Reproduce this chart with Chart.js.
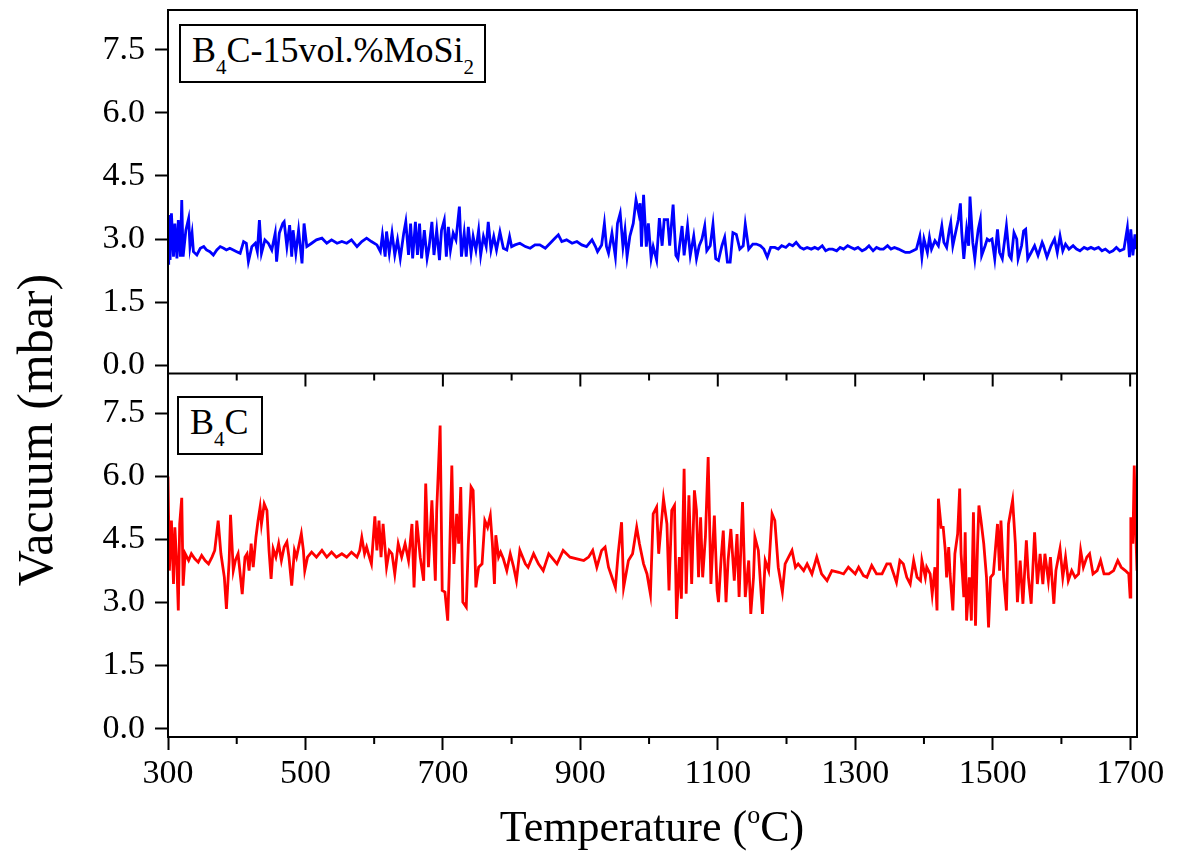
<!DOCTYPE html>
<html>
<head>
<meta charset="utf-8">
<script src="https://cdn.jsdelivr.net/npm/chart.js@4.4.1/dist/chart.umd.min.js"></script>
<style>
    body { margin: 0; background: #fff; }
    #wrap { position: relative; width: 1185px; height: 854px; font-family: 'Liberation Serif', 'Times New Roman', serif; color: #000; }
    #chartVacuum { position: absolute; left: 0; top: 0; }
    .tag { position: absolute; box-sizing: border-box; height: 59px; border: 2px solid #000; background: #fff;
           font-size: 36px; line-height: 36px; padding: 6px 0 0 11px; white-space: nowrap; }
    .tag sub { font-size: 21px; vertical-align: baseline; position: relative; top: 12px; }
    .ytitle { position: absolute; left: 35px; top: 430px; width: 500px; text-align: center; font-size: 50px; line-height: 50px;
              transform: translate(-50%, -50%) rotate(-90deg); white-space: nowrap; }
    .xtitle { position: absolute; left: 402px; top: 805px; width: 500px; text-align: center; font-size: 44px; line-height: 44px; white-space: nowrap; }
    .xtitle sup { font-size: 26px; vertical-align: baseline; position: relative; top: -18px; }
</style>
</head>
<body>
<div id="wrap">
    <canvas id="chartVacuum" width="1185" height="854"></canvas>
    <div class="tag" style="left:179px; top:24px; width:307px;">B<sub>4</sub>C-15vol.%MoSi<sub>2</sub></div>
    <div class="tag" style="left:177px; top:396px; width:86px;">B<sub>4</sub>C</div>
    <div class="ytitle">Vacuum (mbar)</div>
    <div class="xtitle">Temperature (<sup>o</sup>C)</div>
</div>
<script>
// B4C-15vol.%MoSi2 (top panel)
var tempMoSi2 = [300, 301, 303, 305, 308, 310, 313, 315, 318, 320, 322, 326, 330, 332, 335, 337, 342, 347, 352, 356,
    361, 366, 371, 376, 381, 385, 390, 395, 400, 405, 410, 414, 417, 422, 427, 430, 433, 436, 441, 446,
    451, 456, 458, 462, 467, 469, 473, 477, 480, 482, 486, 490, 495, 498, 502, 509, 516, 524, 531, 538,
    546, 553, 560, 567, 575, 582, 589, 596, 604, 609, 612, 616, 618, 622, 626, 630, 634, 638, 643, 646,
    650, 653, 656, 660, 663, 666, 669, 673, 677, 680, 684, 687, 691, 695, 698, 702, 705, 708, 711, 715,
    719, 724, 727, 731, 734, 737, 741, 744, 748, 752, 755, 759, 763, 766, 770, 774, 778, 783, 788, 793,
    797, 800, 805, 812, 820, 827, 834, 841, 849, 856, 863, 868, 873, 880, 888, 895, 902, 909, 917, 922,
    925, 931, 935, 938, 941, 946, 951, 954, 958, 962, 965, 968, 972, 977, 981, 985, 987, 989, 992, 996,
    999, 1003, 1006, 1011, 1015, 1019, 1022, 1027, 1030, 1035, 1039, 1042, 1048, 1051, 1056, 1060, 1065, 1069, 1073, 1077,
    1081, 1084, 1089, 1093, 1097, 1101, 1106, 1110, 1114, 1118, 1122, 1127, 1132, 1137, 1140, 1145, 1151, 1156, 1162, 1167,
    1172, 1177, 1183, 1188, 1193, 1199, 1204, 1209, 1214, 1220, 1225, 1230, 1236, 1241, 1246, 1252, 1257, 1262, 1267, 1273,
    1278, 1283, 1289, 1294, 1299, 1304, 1310, 1315, 1320, 1326, 1331, 1336, 1341, 1347, 1352, 1357, 1363, 1368, 1373, 1379,
    1384, 1389, 1394, 1397, 1400, 1405, 1408, 1411, 1416, 1421, 1426, 1429, 1433, 1437, 1439, 1442, 1447, 1450, 1453, 1455,
    1458, 1462, 1465, 1467, 1471, 1474, 1476, 1479, 1482, 1484, 1489, 1492, 1495, 1499, 1503, 1507, 1510, 1514, 1517, 1520,
    1524, 1527, 1531, 1535, 1537, 1542, 1545, 1548, 1551, 1556, 1561, 1566, 1572, 1574, 1579, 1585, 1590, 1594, 1598, 1602,
    1606, 1611, 1617, 1622, 1627, 1633, 1638, 1643, 1648, 1654, 1659, 1664, 1670, 1675, 1680, 1685, 1691, 1696, 1699, 1701,
    1704, 1707, 1709];
var vacMoSi2 = [2.42, 3.57, 2.50, 3.61, 2.58, 3.37, 2.54, 3.45, 2.58, 3.93, 2.58, 3.21, 3.49, 2.82, 3.14, 2.70, 2.62, 2.78, 2.82, 2.74,
    2.70, 2.62, 2.74, 2.82, 2.78, 2.74, 2.78, 2.74, 2.70, 2.66, 2.94, 2.90, 2.46, 2.82, 2.90, 2.70, 3.45, 2.66, 2.98, 2.90,
    2.74, 3.14, 2.46, 3.14, 3.37, 3.41, 2.82, 3.33, 2.58, 3.21, 2.66, 3.21, 2.42, 3.37, 2.82, 2.90, 2.98, 3.02, 2.90, 2.98,
    2.90, 2.94, 2.90, 2.98, 2.82, 2.94, 3.02, 2.94, 2.86, 2.70, 3.10, 2.58, 3.18, 2.66, 3.14, 2.62, 2.98, 2.54, 3.14, 3.41,
    2.62, 3.37, 2.54, 3.41, 2.62, 3.37, 2.54, 3.21, 2.54, 2.82, 3.41, 2.62, 3.21, 2.50, 3.21, 3.45, 2.58, 3.29, 2.74, 3.14,
    2.98, 3.77, 2.58, 3.14, 2.58, 3.29, 2.66, 3.06, 2.74, 3.21, 2.62, 3.06, 2.82, 3.41, 2.74, 3.06, 2.74, 3.17, 2.78, 2.74,
    3.06, 2.82, 2.86, 2.90, 2.82, 2.78, 2.86, 2.86, 2.78, 2.90, 3.02, 3.10, 2.94, 2.98, 2.90, 2.94, 2.86, 2.82, 2.98, 2.82,
    2.70, 2.86, 3.37, 2.82, 2.66, 3.14, 2.58, 3.37, 3.61, 2.82, 3.21, 2.58, 3.06, 3.37, 3.93, 3.61, 3.85, 2.82, 4.05, 2.82,
    3.37, 2.54, 2.82, 2.50, 3.50, 2.84, 3.46, 3.46, 2.84, 3.82, 2.61, 2.53, 3.31, 2.61, 3.31, 2.61, 3.07, 2.53, 2.84, 3.00,
    3.31, 2.72, 2.84, 3.35, 2.53, 2.49, 2.84, 3.04, 2.45, 2.45, 3.15, 3.11, 2.76, 2.84, 3.35, 2.76, 2.88, 2.88, 2.84, 2.76,
    2.57, 2.80, 2.80, 2.76, 2.84, 2.80, 2.88, 2.84, 2.92, 2.80, 2.76, 2.80, 2.76, 2.80, 2.76, 2.84, 2.72, 2.76, 2.76, 2.72,
    2.80, 2.76, 2.84, 2.80, 2.76, 2.80, 2.72, 2.76, 2.84, 2.72, 2.80, 2.76, 2.76, 2.84, 2.76, 2.80, 2.76, 2.72, 2.68, 2.68,
    2.72, 2.76, 3.07, 2.57, 3.00, 2.68, 3.04, 2.76, 2.96, 2.84, 3.31, 2.92, 2.80, 3.23, 3.39, 2.84, 3.23, 3.46, 3.85, 3.15,
    2.53, 3.23, 2.84, 4.01, 2.92, 2.53, 2.84, 3.23, 3.46, 2.61, 2.84, 3.00, 2.96, 3.00, 2.53, 3.23, 2.68, 2.53, 2.92, 3.31,
    2.61, 2.53, 3.15, 3.00, 2.53, 2.84, 3.19, 3.23, 2.53, 2.68, 2.84, 2.61, 2.92, 2.84, 2.57, 2.84, 3.00, 2.68, 3.07, 2.72,
    2.88, 2.76, 2.84, 2.76, 2.72, 2.80, 2.76, 2.80, 2.76, 2.80, 2.72, 2.76, 2.68, 2.72, 2.80, 2.72, 2.76, 3.27, 2.57, 3.23,
    2.61, 3.11, 2.76];

// B4C (bottom panel)
var tempB4C = [300, 302, 305, 308, 310, 313, 315, 317, 320, 322, 325, 330, 334, 339, 344, 349, 354, 359, 364, 368,
    373, 377, 382, 385, 389, 391, 395, 398, 402, 408, 412, 415, 418, 421, 424, 428, 431, 434, 436, 440,
    444, 447, 450, 453, 457, 461, 465, 469, 473, 476, 480, 484, 487, 491, 494, 497, 499, 503, 509, 516,
    524, 531, 538, 545, 553, 560, 567, 575, 579, 582, 586, 589, 593, 596, 601, 604, 607, 610, 613, 618,
    622, 626, 630, 635, 640, 645, 650, 655, 658, 662, 667, 672, 675, 679, 684, 689, 691, 696, 699, 703,
    707, 709, 713, 716, 720, 723, 726, 729, 734, 737, 741, 744, 748, 752, 757, 761, 765, 769, 772, 775,
    777, 781, 784, 788, 793, 798, 803, 807, 812, 820, 824, 832, 839, 846, 854, 858, 866, 875, 885, 895,
    905, 912, 918, 924, 931, 936, 941, 946, 951, 955, 960, 963, 970, 976, 982, 986, 992, 997, 1002, 1006,
    1011, 1014, 1021, 1026, 1029, 1033, 1037, 1040, 1044, 1047, 1051, 1054, 1058, 1062, 1066, 1069, 1072, 1075, 1078, 1082,
    1086, 1090, 1095, 1099, 1101, 1105, 1108, 1112, 1115, 1119, 1124, 1128, 1131, 1136, 1140, 1145, 1148, 1152, 1154, 1159,
    1165, 1169, 1174, 1179, 1183, 1188, 1194, 1198, 1203, 1208, 1213, 1217, 1225, 1230, 1237, 1244, 1251, 1259, 1266, 1276,
    1283, 1290, 1300, 1305, 1312, 1317, 1324, 1331, 1339, 1346, 1351, 1356, 1360, 1365, 1370, 1375, 1380, 1385, 1390, 1395,
    1397, 1402, 1404, 1409, 1412, 1416, 1419, 1421, 1425, 1428, 1431, 1433, 1436, 1438, 1442, 1445, 1449, 1452, 1454, 1458,
    1460, 1462, 1466, 1469, 1472, 1475, 1478, 1480, 1483, 1487, 1491, 1494, 1497, 1501, 1507, 1510, 1512, 1516, 1520, 1523,
    1529, 1533, 1536, 1540, 1544, 1549, 1552, 1556, 1561, 1565, 1569, 1573, 1576, 1581, 1584, 1589, 1592, 1598, 1602, 1606,
    1610, 1615, 1620, 1625, 1628, 1632, 1637, 1641, 1646, 1652, 1657, 1662, 1669, 1676, 1682, 1687, 1693, 1698, 1700, 1701,
    1704, 1706, 1708, 1710];
var vacB4C = [6.00, 3.76, 4.95, 3.44, 4.79, 3.84, 2.81, 4.87, 5.49, 3.40, 4.16, 4.00, 4.16, 4.04, 3.96, 4.12, 4.00, 3.92, 4.08, 4.24,
    4.95, 4.16, 3.60, 2.85, 4.00, 5.09, 3.76, 4.00, 4.16, 3.20, 4.08, 4.16, 3.76, 4.40, 3.84, 4.56, 4.95, 5.27, 4.87, 5.35,
    5.19, 4.24, 3.56, 4.28, 4.08, 4.40, 4.00, 4.32, 4.44, 4.08, 3.40, 4.24, 4.08, 4.40, 4.64, 4.24, 3.76, 4.08, 4.20, 4.08,
    4.24, 4.08, 4.20, 4.08, 4.16, 4.08, 4.20, 4.08, 4.24, 4.55, 4.16, 4.32, 4.08, 3.92, 5.05, 4.24, 4.95, 4.08, 4.87, 3.84,
    4.24, 4.16, 3.68, 4.40, 4.08, 4.40, 4.00, 4.87, 3.36, 4.95, 4.08, 3.52, 5.83, 3.84, 5.43, 3.52, 5.19, 7.21, 3.29, 3.25,
    2.57, 3.60, 6.26, 3.92, 5.11, 4.40, 5.75, 3.01, 2.89, 4.40, 5.75, 5.67, 3.36, 3.84, 3.92, 4.95, 4.79, 5.07, 4.40, 3.44,
    4.60, 4.08, 4.20, 4.04, 3.76, 4.16, 3.84, 3.52, 4.24, 3.92, 3.84, 4.16, 3.92, 3.76, 4.16, 4.08, 3.92, 4.24, 4.08, 4.04,
    4.00, 4.08, 4.24, 3.84, 4.24, 4.32, 3.84, 3.60, 3.36, 4.16, 4.91, 3.36, 4.00, 4.16, 4.79, 4.40, 3.92, 3.68, 3.20, 5.11,
    5.27, 4.16, 5.47, 4.87, 3.29, 5.19, 5.31, 2.61, 4.08, 3.09, 6.18, 3.21, 5.55, 3.44, 5.67, 5.19, 3.60, 5.03, 3.60, 4.56,
    6.46, 3.44, 5.07, 3.29, 3.01, 4.08, 4.71, 3.01, 4.00, 4.75, 3.52, 4.63, 3.13, 5.39, 3.13, 4.00, 2.73, 3.60, 4.56, 4.24,
    2.73, 4.00, 3.76, 5.11, 4.95, 3.84, 3.25, 3.92, 4.08, 4.24, 3.84, 3.92, 3.76, 3.92, 3.68, 4.08, 3.68, 3.52, 3.76, 3.72,
    3.68, 3.84, 3.68, 3.84, 3.64, 3.60, 3.88, 3.68, 3.68, 3.92, 3.92, 3.68, 3.48, 4.00, 3.92, 3.60, 3.44, 4.00, 3.60, 3.52,
    4.00, 3.60, 3.84, 3.68, 3.20, 3.84, 2.81, 5.47, 4.79, 4.79, 4.24, 3.60, 4.32, 3.68, 2.81, 4.16, 4.63, 5.71, 4.16, 3.13,
    4.67, 2.57, 3.60, 2.57, 5.15, 2.45, 4.40, 5.31, 4.95, 4.40, 3.60, 2.41, 3.60, 3.68, 4.87, 3.76, 4.95, 3.60, 2.81, 4.87,
    5.43, 4.40, 3.01, 4.00, 2.97, 4.48, 3.60, 2.97, 4.67, 3.44, 4.16, 3.44, 4.16, 3.52, 4.08, 2.97, 3.76, 4.28, 3.60, 4.08,
    3.52, 3.76, 3.60, 3.68, 4.24, 3.84, 4.08, 4.16, 3.68, 3.76, 4.00, 3.68, 3.68, 3.76, 4.00, 3.84, 3.76, 3.68, 3.13, 5.03,
    4.40, 6.26, 4.79, 3.76];

// axes
var xTicks = [300, 500, 700, 900, 1100, 1300, 1500, 1700];
var xMinorTicks = [400, 600, 800, 1000, 1200, 1400, 1600];
var yTicks = [0, 1.5, 3, 4.5, 6, 7.5];

function toPoints(xs, ys) {
    return xs.map(function (x, i) { return { x: x, y: ys[i] }; });
}

var serif = "'Liberation Serif', 'Times New Roman', serif";

function yAxis() {
    return {
        type: 'linear',
        position: 'left',
        stack: 'panels',
        stackWeight: 1,
        min: -0.2,
        max: 8.45,
        afterBuildTicks: function (s) { s.ticks = yTicks.map(function (v) { return { value: v }; }); },
        afterFit: function (s) {
            s.width = 168;
            s.paddingTop = 0;
            s.paddingBottom = 0;
        },
        grid: { drawOnChartArea: false, drawTicks: true, tickLength: 13, tickWidth: 2, tickColor: '#000' },
        border: { display: true, color: '#000', width: 2 },
        ticks: {
            font: { family: serif, size: 34 }, color: '#000', padding: 10, autoSkip: false,
            callback: function (v) { return Number(v).toFixed(1); }
        }
    };
}

// box, separator line and the short ticks Chart.js can't do
var framePlugin = {
    id: 'frame',
    afterDraw: function (chart) {
        var ctx = chart.ctx, a = chart.chartArea;
        var xs = chart.scales.x;
        var mid = Math.min(chart.scales.yTop.bottom, chart.scales.yBot.bottom);
        ctx.save();
        ctx.strokeStyle = '#000';
        ctx.lineWidth = 2;
        ctx.strokeRect(a.left, a.top, a.right - a.left, a.bottom - a.top);
        ctx.beginPath();
        ctx.moveTo(a.left, mid);
        ctx.lineTo(a.right, mid);
        xTicks.forEach(function (t) {
            var px = xs.getPixelForValue(t);
            ctx.moveTo(px, mid);
            ctx.lineTo(px, mid + 13);
        });
        xMinorTicks.forEach(function (t) {
            var px = xs.getPixelForValue(t);
            ctx.moveTo(px, mid);
            ctx.lineTo(px, mid + 7);
            ctx.moveTo(px, a.bottom);
            ctx.lineTo(px, a.bottom + 7);
        });
        ctx.stroke();
        ctx.restore();
    }
};

var ctx = document.getElementById('chartVacuum');
new Chart(ctx, {
    type: 'line',
    data: {
        datasets: [{
            label: 'B4C-15vol.%MoSi2',
            data: toPoints(tempMoSi2, vacMoSi2),
            yAxisID: 'yTop',
            borderColor: '#0000ff',
            borderWidth: 2.8,
            pointRadius: 0,
            tension: 0
        }, {
            label: 'B4C',
            data: toPoints(tempB4C, vacB4C),
            yAxisID: 'yBot',
            borderColor: '#ff0000',
            borderWidth: 2.8,
            pointRadius: 0,
            tension: 0
        }]
    },
    options: {
        responsive: false,
        animation: false,
        events: [],
        layout: { padding: { left: 0, top: 10, right: 48, bottom: 0 } },
        scales: {
            x: {
                type: 'linear',
                min: 300,
                max: 1710,
                afterBuildTicks: function (s) { s.ticks = xTicks.map(function (v) { return { value: v }; }); },
                afterFit: function (s) {
                    s.height = 117;
                    s.paddingLeft = 0;
                    s.paddingRight = 0;
                },
                grid: { drawOnChartArea: false, drawTicks: true, tickLength: 13, tickWidth: 2, tickColor: '#000' },
                border: { display: true, color: '#000', width: 2 },
                ticks: {
                    font: { family: serif, size: 34 }, color: '#000', padding: 4,
                    maxRotation: 0, autoSkip: false,
                    callback: function (v) { return String(v); }
                }
            },
            // stacked scales are laid out bottom-up in definition order
            yBot: yAxis(),
            yTop: yAxis()
        },
        plugins: {
            legend: { display: false },
            tooltip: { enabled: false }
        }
    },
    plugins: [framePlugin]
});
</script>
</body>
</html>
